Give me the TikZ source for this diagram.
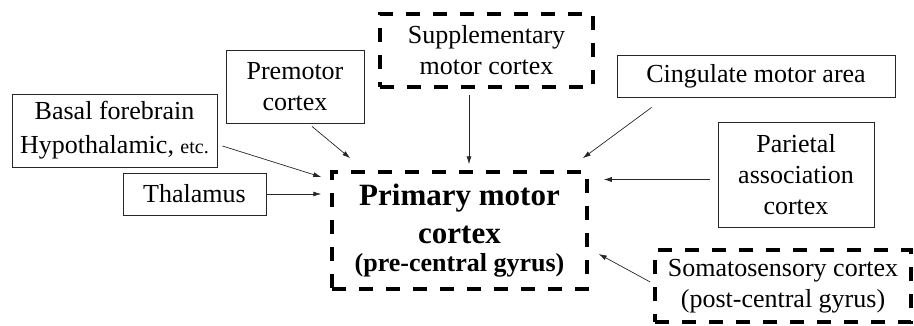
\documentclass[tikz,border=0pt]{standalone}
\usepackage{fontspec}
\setmainfont{LiberationSerif}[Extension=.ttf,UprightFont=*-Regular,BoldFont=*-Bold,
  ItalicFont=*-Italic,BoldItalicFont=*-BoldItalic]
\usetikzlibrary{arrows.meta,calc}

\begin{document}
\begin{tikzpicture}[x=1pt,y=-1pt,
  plainbox/.style={draw=black!85,line width=0.9pt,align=center,inner sep=0pt,
    font=\rmfamily\fontsize{26}{31}\selectfont},
  dashbox/.style={plainbox,draw=black,line width=3.5pt,dash pattern=on 14pt off 13pt},
  feed/.style={-{Latex[length=8pt,width=5pt]},line width=0.7pt,draw=black!85}]
  \useasboundingbox (0,0) rectangle (914,325);
  % target area in the middle
  \node[dashbox,minimum width=255pt,minimum height=117pt] (primary) at (459.5,230.5)
    {\fontsize{31}{40}\selectfont\bfseries Primary motor\\[7pt]
     \fontsize{31}{40}\selectfont\bfseries cortex\\[-3pt]
     \fontsize{26}{31}\selectfont\bfseries (pre-central gyrus)};
  % input areas, left side
  \node[plainbox,minimum width=205pt,minimum height=73pt] (basal) at (114.5,130.5)
    {Basal forebrain\\[3pt]Hypothalamic, {\fontsize{20}{24}\selectfont etc.}};
  \node[plainbox,minimum width=143pt,minimum height=42pt] (thalamus) at (194.5,194) {Thalamus};
  \node[plainbox,minimum width=138pt,minimum height=73pt] (premotor) at (295,86.5)
    {Premotor\\cortex};
  % input areas, top
  \node[dashbox,minimum width=213pt,minimum height=73pt] (supp) at (486.5,50.5)
    {Supplementary\\motor cortex};
  \node[plainbox,minimum width=278pt,minimum height=42pt] (cingulate) at (756,76)
    {Cingulate motor area};
  % input areas, right side
  \node[plainbox,minimum width=156pt,minimum height=105pt] (parietal) at (796,174.5)
    {Parietal\\association\\cortex};
  \node[dashbox,minimum width=256pt,minimum height=72pt] (soma) at (783,286)
    {Somatosensory cortex\\(post-central gyrus)};
  % projections
  \draw[feed] ($(basal.east)+(5,15.5)$) -- ($(primary.west)+(-9,-53.5)$);
  \draw[feed] (thalamus.east) -- ($(primary.west)+(-9,-36.5)$);
  \draw[feed] ($(premotor.south)+(17,3)$) -- ($(primary.north west)+(20,-12)$);
  \draw[feed] ($(supp.south)+(-17.5,6)$) -- ($(primary.north)+(9.5,-6)$);
  \draw[feed] ($(cingulate.south west)+(35,10)$) -- ($(primary.north east)+(-6,-12)$);
  \draw[feed] ($(parietal.west)+(-8,5)$) -- ($(primary.east)+(15,-51)$);
  \draw[feed] ($(soma.west)+(-3,-4)$) -- ($(primary.east)+(10,23.5)$);
\end{tikzpicture}
\end{document}
